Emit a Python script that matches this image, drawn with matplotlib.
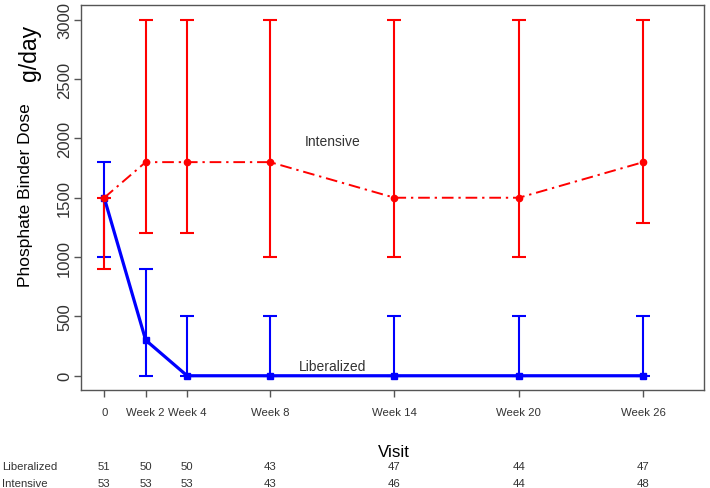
import numpy as np
import matplotlib.pyplot as plt
from matplotlib.transforms import blended_transform_factory

plt.rcParams["font.family"] = ["Liberation Sans", "DejaVu Sans"]

weeks = [0, 2, 4, 8, 14, 20, 26]
visit_labels = ["0", "Week 2", "Week 4", "Week 8", "Week 14", "Week 20", "Week 26"]

lib_mid = [1500, 300, 0, 0, 0, 0, 0]
lib_low = [1000, 0, 0, 0, 0, 0, 0]
lib_high = [1800, 900, 500, 500, 500, 500, 500]

int_mid = [1500, 1800, 1800, 1800, 1500, 1500, 1800]
int_low = [900, 1200, 1200, 1000, 1000, 1000, 1285]
int_high = [1500, 3000, 3000, 3000, 3000, 3000, 3000]

n_lib = [51, 50, 50, 43, 47, 44, 47]
n_int = [53, 53, 53, 43, 46, 44, 48]

grey = "#333333"

fig = plt.figure(figsize=(7.1, 4.89), dpi=100)
ax = fig.add_axes([81 / 710, 1 - 391 / 489, 623 / 710, 385 / 489])

x = np.array(weeks)
lm, ll, lh = map(np.array, (lib_mid, lib_low, lib_high))
im, il, ih = map(np.array, (int_mid, int_low, int_high))

ax.errorbar(x, lm, yerr=[lm - ll, lh - lm], fmt="none", ecolor="blue",
            elinewidth=1.5, capsize=4.7, capthick=1.5)
ax.errorbar(x, im, yerr=[im - il, ih - im], fmt="none", ecolor="red",
            elinewidth=1.5, capsize=4.7, capthick=1.5)
ax.plot(x, lm, color="blue", lw=2.3, marker="s", markersize=4.5)
ax.plot(x, im, color="red", lw=1.4, linestyle=(0, (6, 2.5, 1.2, 2.5)),
        marker="o", markersize=4.5)

ax.text(11, 1980, "Intensive", ha="center", va="center", fontsize=10, color=grey)
ax.text(11, 85, "Liberalized", ha="center", va="center", fontsize=10, color=grey)

ax.set_xlim(-1.12, 28.93)
ax.set_ylim(-120, 3124)
ax.set_xticks(weeks)
ax.set_xticklabels(visit_labels)
ax.set_yticks([0, 500, 1000, 1500, 2000, 2500, 3000])
ax.tick_params(axis="x", length=5, width=1, color="#555555", pad=7,
               labelsize=8.2, labelcolor=grey)
ax.tick_params(axis="y", length=5, width=1, color="#555555", pad=1.5,
               labelsize=12, labelcolor=grey, labelrotation=90)
for lab in ax.get_yticklabels():
    lab.set_va("center")
for s in ax.spines.values():
    s.set_color("#555555")
    s.set_linewidth(1)

fig.text(26 / 710, 1 - 195 / 489, "Phosphate Binder Dose", rotation=90,
         ha="center", va="center", fontsize=12.5)
fig.text(29 / 710, 1 - 53 / 489, "g/day", rotation=90,
         ha="center", va="center", fontsize=16.5)
fig.text(394 / 710, 1 - 453 / 489, "Visit", ha="center", va="center", fontsize=12.2)

tr = blended_transform_factory(ax.transData, fig.transFigure)
fig.text(2 / 710, 1 - 467 / 489, "Liberalized", ha="left", va="center",
         fontsize=8.2, color=grey)
fig.text(2 / 710, 1 - 484 / 489, "Intensive", ha="left", va="center",
         fontsize=8.2, color=grey)
for w, a, b in zip(weeks, n_lib, n_int):
    ax.text(w, 1 - 467 / 489, str(a), transform=tr, ha="center", va="center",
            fontsize=8.2, color=grey, clip_on=False)
    ax.text(w, 1 - 484 / 489, str(b), transform=tr, ha="center", va="center",
            fontsize=8.2, color=grey, clip_on=False)

fig.savefig("out.png", dpi=100)
